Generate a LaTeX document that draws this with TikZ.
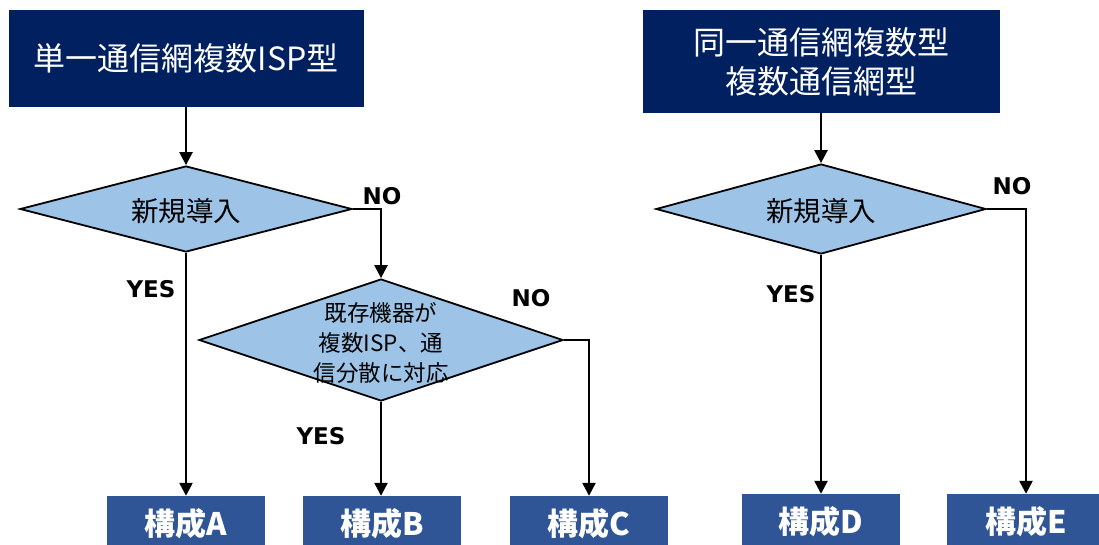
\documentclass[tikz,border=0pt]{standalone}
\usepackage{fontspec}
\newfontfamily\jp{Noto Sans CJK JP}
\newfontfamily\lab{DejaVu Sans}
\usetikzlibrary{shapes.geometric,arrows.meta}
\definecolor{navy}{RGB}{0,32,96}
\definecolor{dfill}{RGB}{157,195,230}
\definecolor{bfill}{RGB}{47,85,151}
\begin{document}
\begin{tikzpicture}[x=1pt,y=-1pt,
  titlebox/.style={rectangle,fill=navy,text=white,inner sep=0pt,align=center,
    font=\jp\fontsize{32}{39}\selectfont},
  dia/.style={diamond,draw=black,line width=1.8pt,fill=dfill,inner sep=0pt},
  dtext/.style={inner sep=0pt,align=center,text=black},
  res/.style={rectangle,fill=bfill,text=white,inner sep=0pt,minimum width=158pt,
    minimum height=56pt,font=\jp\bfseries\fontsize{31}{34}\selectfont},
  yn/.style={inner sep=0pt,font=\lab\bfseries\fontsize{23}{26}\selectfont},
  arr/.style={line width=2.4pt,-{Triangle[width=13pt,length=13pt]}}]
\useasboundingbox (0,0) rectangle (1099,544);
\clip (0,0) rectangle (1099,544);
% titles
\node[titlebox,minimum width=355pt,minimum height=97pt] (t1) at (186,58.5) {単一通信網複数ISP型};
\node[titlebox,minimum width=357pt,minimum height=103pt] (t2) at (821,61.5) {同一通信網複数型\\複数通信網型};
% diamonds
\node[dia,minimum width=332pt,minimum height=86pt] (d1) at (186,209) {};
\node[dtext,font=\jp\fontsize{27.5}{30}\selectfont] (d1t) at (186,211) {新規導入};
\node[dia,minimum width=364pt,minimum height=122pt] (d2) at (381,340) {};
\node[dtext,font=\jp\fontsize{22.5}{30}\selectfont] (d2t) at (381,343) {既存機器が\\複数ISP、通\\信分散に対応};
\node[dia,minimum width=330pt,minimum height=90pt] (d3) at (821,209) {};
\node[dtext,font=\jp\fontsize{27.5}{30}\selectfont] (d3t) at (821,211) {新規導入};
% results
\node[res] (bA) at (186,524) {構成A};
\node[res] (bB) at (382,524) {構成B};
\node[res] (bC) at (589,524) {構成C};
\node[res] (bD) at (821,522) {構成D};
\node[res] (bE) at (1026,522) {構成E};
% connectors
\draw[arr] (t1.south) -- (d1.north);
\draw[arr] (d1.east) -| (d2.north);
\draw[arr] (d1.south) -- (bA.north);
\draw[arr] (d2.south) -- (d2.south |- bB.north);
\draw[arr] (d2.east) -| (bC.north);
\draw[arr] (t2.south) -- (d3.north);
\draw[arr] (d3.south) -- (bD.north);
\draw[arr] (d3.east) -| (bE.north);
% labels
\node[yn] (n1) at (382,196) {NO};
\node[yn] (y1) at (151,289) {YES};
\node[yn] (n2) at (531,298) {NO};
\node[yn] (y2) at (321,436) {YES};
\node[yn] (n3) at (1012,186) {NO};
\node[yn] (y3) at (791,294) {YES};
\end{tikzpicture}
\end{document}
